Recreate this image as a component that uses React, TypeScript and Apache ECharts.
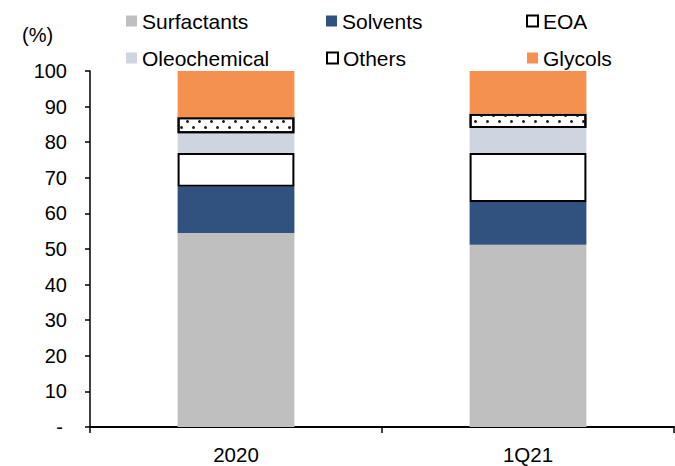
import React, { useEffect, useRef } from "react";
import * as echarts from "echarts";

// Product mix by share of sales volume (%)
const categories = ["2020", "1Q21"];
const surfactants = [54.5, 51.2];
const solvents = [13.0, 12.0];
const eoa = [9.5, 13.8];
const oleochemical = [5.5, 7.0];
const others = [4.5, 4.0];
const glycols = [13.0, 12.0];
const yTicks = { min: 0, max: 100, interval: 10 };

const FONT = "'Liberation Sans', Arial, sans-serif";

export default function App() {
  const ref = useRef<HTMLDivElement>(null);

  useEffect(() => {
    if (!ref.current) return;
    const chart = echarts.init(ref.current, undefined, { renderer: "svg" });

    const base = {
      type: "bar" as const,
      stack: "mix",
      barWidth: "40%",
    };

    // One legend block per entry so each sits in its own fixed column/row
    const legendAt = (name: string, left: number, top: number, plain = false) => ({
      data: [plain ? { name, itemStyle: { decal: "none" } } : name],
      left,
      top,
      icon: "rect",
      itemWidth: 11,
      itemHeight: 11,
      itemGap: 0,
      padding: 0,
      textStyle: { fontFamily: FONT, fontSize: 21, color: "#000", lineHeight: 22 },
    });

    chart.setOption({
      animation: false,
      backgroundColor: "#fff",
      textStyle: { fontFamily: FONT },
      grid: { left: 90, right: 1, top: 71, bottom: 39, containLabel: false },
      legend: [
        legendAt("Surfactants", 126, 10),
        legendAt("Solvents", 326, 10),
        legendAt("EOA", 526, 10),
        legendAt("Oleochemical", 126, 47),
        legendAt("Others", 326, 47, true),
        legendAt("Glycols", 527, 47),
      ],
      graphic: [
        {
          type: "text",
          left: 22,
          top: 25,
          style: { text: "(%)", fontFamily: FONT, fontSize: 20, fill: "#000" },
        },
      ],
      xAxis: {
        type: "category",
        data: categories,
        boundaryGap: true,
        axisLine: { lineStyle: { color: "#000", width: 2 } },
        axisTick: { show: true, length: 6, lineStyle: { color: "#000", width: 1.5 } },
        axisLabel: { color: "#000", fontFamily: FONT, fontSize: 20.5, margin: 17 },
      },
      yAxis: {
        type: "value",
        min: yTicks.min,
        max: yTicks.max,
        interval: yTicks.interval,
        splitLine: { show: false },
        axisLine: { show: true, lineStyle: { color: "#000", width: 1.5 } },
        axisTick: { show: true, length: 5, lineStyle: { color: "#000", width: 1.5 } },
        axisLabel: {
          color: "#000",
          fontFamily: FONT,
          fontSize: 20,
          margin: 23,
          formatter: (v: number) => (v === 0 ? "{d|-}" : String(v)),
          rich: { d: { fontFamily: FONT, fontSize: 20, color: "#000", padding: [0, 4, 0, 0] } },
        },
      },
      series: [
        { ...base, name: "Surfactants", data: surfactants, itemStyle: { color: "#bfbfbf" } },
        { ...base, name: "Solvents", data: solvents, itemStyle: { color: "#31517f" } },
        {
          ...base,
          name: "EOA",
          data: eoa,
          itemStyle: { color: "#ffffff", borderColor: "#000", borderWidth: 2 },
        },
        { ...base, name: "Oleochemical", data: oleochemical, itemStyle: { color: "#ced4e0" } },
        {
          ...base,
          name: "Others",
          data: others,
          itemStyle: {
            color: "#ffffff",
            borderColor: "#000",
            borderWidth: 2,
            decal: {
              symbol: "circle",
              symbolSize: 1,
              color: "#222",
              backgroundColor: "#ffffff",
              dashArrayX: [
                [3, 9],
                [0, 6, 3, 3],
              ],
              dashArrayY: [3, 3],
              rotation: 0,
            },
          },
        },
        { ...base, name: "Glycols", data: glycols, itemStyle: { color: "#f5914f" } },
      ],
    });

    return () => chart.dispose();
  }, []);

  return (
    <div
      ref={ref}
      style={{ position: "fixed", left: 0, top: 0, width: 675, height: 466 }}
    />
  );
}
